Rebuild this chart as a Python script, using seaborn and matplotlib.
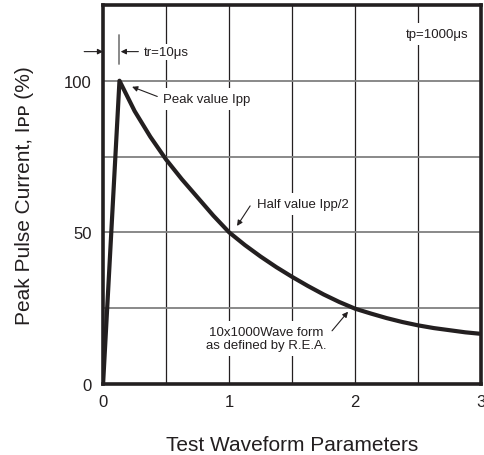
import matplotlib
matplotlib.use("Agg")
import matplotlib.pyplot as plt
import seaborn as sns
import pandas as pd

# waveform (time in ms, current in % of Ipp)
t_ms = [0, 0.13, 0.19, 0.25, 0.375, 0.5, 0.625, 0.75, 0.875, 1.0, 1.125, 1.25, 1.375, 1.5,
        1.625, 1.75, 1.875, 2.0, 2.125, 2.25, 2.375, 2.5, 2.625, 2.75, 2.875, 3.0]
ipp_pct = [0, 100, 95, 90, 81.5, 74, 67.5, 61.5, 55.5, 50, 45.8, 42, 38.5, 35.3,
           32.3, 29.5, 27, 24.8, 23.2, 21.7, 20.4, 19.3, 18.4, 17.7, 17.0, 16.5]
x_ticks = [0, 1, 2, 3]
y_ticks = [0, 50, 100]
x_grid = [0.5, 1.0, 1.5, 2.0, 2.5]
y_grid = [25, 50, 75, 100]

sns.set_theme(style="white")
plt.rcParams["font.family"] = ["Liberation Sans", "DejaVu Sans"]
ink = "#231f20"

df = pd.DataFrame({"t": t_ms, "ipp": ipp_pct})

fig = plt.figure(figsize=(4.84, 4.56), dpi=100)
ax = fig.add_axes([0.213, 0.156, 0.781, 0.831])

ax.vlines(x_grid, 0, 125, color=ink, lw=0.9, zorder=1)
ax.hlines(y_grid, 0, 3, color="#808080", lw=1.3, zorder=3)
sns.lineplot(data=df, x="t", y="ipp", ax=ax, color=ink, lw=3.0, zorder=4)

ax.set_xlim(0, 3)
ax.set_ylim(0, 125)
ax.set_xticks(x_ticks)
ax.set_yticks(y_ticks)
ax.tick_params(length=0, labelsize=12, colors=ink)
ax.tick_params(axis="x", pad=7)
ax.tick_params(axis="y", pad=8)
for s in ax.spines.values():
    s.set_linewidth(2.6)
    s.set_color(ink)
    s.set_zorder(5)

ax.set_xlabel("Test Waveform Parameters", fontsize=15, color=ink, labelpad=19)
ax.set_ylabel("Peak Pulse Current, Iᴘᴘ (%)", fontsize=15, color=ink, labelpad=22)

box = dict(facecolor="white", edgecolor="none", pad=3.5)
arr = dict(arrowstyle="-|>", color=ink, lw=0.8, mutation_scale=8, shrinkA=0, shrinkB=0)

# rise time marker
ax.text(0.32, 109.6, "tr=10μs", fontsize=9.5, color=ink, va="center", ha="left", bbox=dict(facecolor="white", edgecolor="none", pad=1.5), zorder=2)
ax.annotate("", xy=(0, 109.6), xytext=(-0.15, 109.6), arrowprops=arr, annotation_clip=False)
ax.annotate("", xy=(0.14, 109.6), xytext=(0.28, 109.6), arrowprops=arr)
ax.plot([0.13, 0.13], [105.5, 115], color="#808080", lw=1.3, zorder=4)

ax.text(2.40, 115.5, "tp=1000μs", fontsize=9.5, color=ink, va="center", ha="left", bbox=box, zorder=2)

ax.text(0.476, 94, "Peak value Ipp", fontsize=9.5, color=ink, va="center", ha="left", bbox=box, zorder=2)
ax.annotate("", xy=(0.23, 98), xytext=(0.43, 94.8), arrowprops=arr, zorder=4)

ax.text(1.22, 59.4, "Half value Ipp/2", fontsize=9.5, color=ink, va="center", ha="left", bbox=box, zorder=2)
ax.annotate("", xy=(1.063, 52.1), xytext=(1.167, 58.7), arrowprops=arr, zorder=4)

ax.text(1.294, 14.9, "10x1000Wave form\nas defined by R.E.A.", fontsize=9.5, color=ink, va="center", ha="center",
        linespacing=1.1, bbox=box, zorder=2)
ax.annotate("", xy=(1.944, 23.8), xytext=(1.817, 17.5), arrowprops=arr, zorder=4)

fig.savefig("out.png", dpi=100)
